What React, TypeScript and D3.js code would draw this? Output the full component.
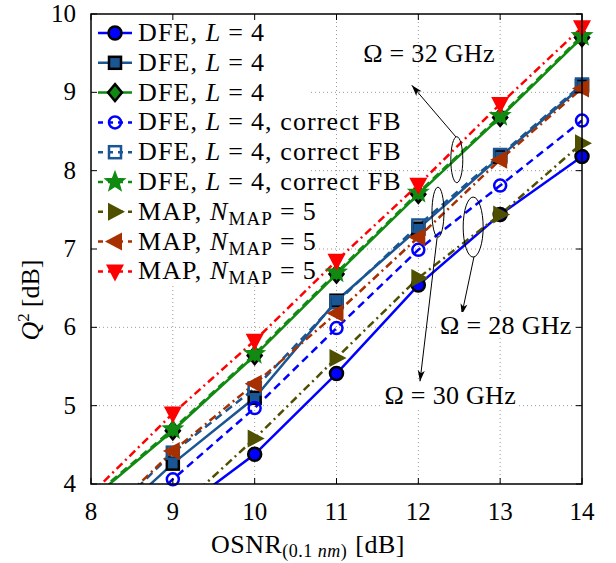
import React from 'react';
import * as d3 from 'd3';

// OSNR values (x) and Q^2 values (dB) per curve
const osnr = [8, 9, 10, 11, 12, 13, 14];
const dfeCircle = [null, 3.60, 4.38, 5.41, 6.54, 7.44, 8.18];
const dfeSquare = [3.30, 4.26, 5.10, 6.34, 7.26, 8.18, 9.08];
const dfeDiamond = [3.80, 4.68, 5.64, 6.68, 7.70, 8.68, 9.70];
const fbCircle = [3.10, 4.06, 4.97, 5.99, 6.99, 7.81, 8.64];
const fbSquare = [3.37, 4.40, 5.22, 6.32, 7.30, 8.20, 9.10];
const fbStar = [3.82, 4.70, 5.66, 6.70, 7.72, 8.70, 9.72];
const mapRight = [null, 3.62, 4.58, 5.61, 6.63, 7.44, 8.35];
const mapLeft = [3.40, 4.42, 5.28, 6.18, 7.15, 8.14, 9.05];
const mapDown = [3.87, 4.90, 5.83, 6.85, 7.82, 8.85, 9.83];

const xTicks = [8, 9, 10, 11, 12, 13, 14];
const yTicks = [4, 5, 6, 7, 8, 9, 10];

const BLUE = '#0000ff';
const DKBLUE = '#1a5693';
const GREEN = '#118a11';
const OLIVE = '#4f4f00';
const BROWN = '#a83000';
const RED = '#ff0000';

const DASH = '8,5';
const DASHDOT = '8,4,2,4';

type Marker = 'circle' | 'square' | 'diamond' | 'ocircle' | 'osquare' | 'star' | 'tright' | 'tleft' | 'tdown';

interface Series {
  values: (number | null)[];
  color: string;
  dash: string | null;
  marker: Marker;
  label: 'dfe' | 'fb' | 'map';
}

const series: Series[] = [
  { values: dfeCircle, color: BLUE, dash: null, marker: 'circle', label: 'dfe' },
  { values: dfeSquare, color: DKBLUE, dash: null, marker: 'square', label: 'dfe' },
  { values: dfeDiamond, color: GREEN, dash: null, marker: 'diamond', label: 'dfe' },
  { values: fbCircle, color: BLUE, dash: DASH, marker: 'ocircle', label: 'fb' },
  { values: fbSquare, color: DKBLUE, dash: DASH, marker: 'osquare', label: 'fb' },
  { values: fbStar, color: GREEN, dash: DASH, marker: 'star', label: 'fb' },
  { values: mapRight, color: OLIVE, dash: DASHDOT, marker: 'tright', label: 'map' },
  { values: mapLeft, color: BROWN, dash: DASHDOT, marker: 'tleft', label: 'map' },
  { values: mapDown, color: RED, dash: DASHDOT, marker: 'tdown', label: 'map' },
];

// annotations in data units
const annotations = [
  { text: '32', tx: 12.13, ty: 9.50, ex: 12.47, ey: 8.14, rx: 6, ry: 23, ax0: 12.46, ay0: 8.43, ax1: 11.92, ay1: 9.09, bg: false },
  { text: '28', tx: 13.07, ty: 6.03, ex: 12.67, ey: 7.28, rx: 10, ry: 30, ax0: 12.68, ay0: 6.90, ax1: 12.53, ay1: 6.16, bg: true },
  { text: '30', tx: 12.39, ty: 5.14, ex: 12.24, ey: 7.47, rx: 6, ry: 25, ax0: 12.23, ay0: 7.15, ax1: 12.02, ay1: 5.31, bg: true },
];

const W = 616;
const H = 563;
const left = 91, right = 582, top = 14, bottom = 484;
const FONT = "Liberation Serif, DejaVu Serif, Noto Serif, serif";

const x = d3.scaleLinear().domain([8, 14]).range([left, right]);
const y = d3.scaleLinear().domain([4, 10]).range([bottom, top]);

function drawMarker(m: Marker, cx: number, cy: number, color: string, key: string) {
  switch (m) {
    case 'circle':
      return <circle key={key} cx={cx} cy={cy} r={6.5} fill={color} stroke="#000" strokeWidth={2.5} />;
    case 'square':
      return <rect key={key} x={cx - 6} y={cy - 6} width={12} height={12} fill={color} stroke="#000" strokeWidth={2.5} />;
    case 'diamond':
      return <path key={key} d={`M${cx},${cy - 8.5}L${cx + 7},${cy}L${cx},${cy + 8.5}L${cx - 7},${cy}Z`} fill={color} stroke="#000" strokeWidth={2.5} />;
    case 'ocircle':
      return <circle key={key} cx={cx} cy={cy} r={6} fill="none" stroke={color} strokeWidth={2.5} />;
    case 'osquare':
      return <rect key={key} x={cx - 6} y={cy - 6} width={12} height={12} fill="none" stroke={color} strokeWidth={2.5} />;
    case 'star': {
      const pts = d3.range(10).map(i => {
        const a = -Math.PI / 2 + (i * Math.PI) / 5;
        const r = i % 2 === 0 ? 10 : 4.2;
        return `${cx + r * Math.cos(a)},${cy + r * Math.sin(a)}`;
      });
      return <polygon key={key} points={pts.join(' ')} fill={color} stroke={color} strokeWidth={1.5} />;
    }
    case 'tright':
      return <path key={key} d={`M${cx + 10},${cy}L${cx - 7},${cy - 9}L${cx - 7},${cy + 9}Z`} fill={color} />;
    case 'tleft':
      return <path key={key} d={`M${cx - 10},${cy}L${cx + 7},${cy - 9}L${cx + 7},${cy + 9}Z`} fill={color} />;
    case 'tdown':
      return <path key={key} d={`M${cx},${cy + 10}L${cx - 9},${cy - 7}L${cx + 9},${cy - 7}Z`} fill={color} />;
  }
}

function Label({ kind }: { kind: 'dfe' | 'fb' | 'map' }) {
  if (kind === 'map') {
    return (
      <>
        <tspan>MAP, </tspan>
        <tspan fontStyle="italic">N</tspan>
        <tspan fontSize={19} dy={5}>MAP</tspan>
        <tspan dy={-5} dx={7}>=</tspan>
        <tspan dx={7}>5</tspan>
      </>
    );
  }
  return (
    <>
      <tspan>DFE, </tspan>
      <tspan fontStyle="italic">L</tspan>
      <tspan dx={7}>=</tspan>
      <tspan dx={7}>4{kind === 'fb' ? ', correct FB' : ''}</tspan>
    </>
  );
}

function arrowHead(x0: number, y0: number, x1: number, y1: number) {
  const a = Math.atan2(y1 - y0, x1 - x0);
  const len = 11, hw = 3.5;
  const bx = x1 - len * Math.cos(a), by = y1 - len * Math.sin(a);
  const px = -Math.sin(a) * hw, py = Math.cos(a) * hw;
  return `M${x1},${y1}L${bx + px},${by + py}L${bx + len * 0.25 * Math.cos(a)},${by + len * 0.25 * Math.sin(a)}L${bx - px},${by - py}Z`;
}

export default function App() {
  const line = d3.line<[number, number | null]>()
    .defined(d => d[1] !== null)
    .x(d => x(d[0]))
    .y(d => y(d[1] as number));

  return (
    <svg width={W} height={H} style={{ position: 'absolute', left: 0, top: 0, background: '#fff', fontFamily: FONT }}>
      <defs>
        <clipPath id="plot">
          <rect x={left} y={top} width={right - left} height={bottom - top} />
        </clipPath>
      </defs>
      <rect x={0} y={0} width={W} height={H} fill="#fff" />

      {/* grid */}
      {xTicks.slice(1, -1).map(t => (
        <line key={'gx' + t} x1={x(t)} x2={x(t)} y1={top} y2={bottom} stroke="#9a9a9a" strokeWidth={1} strokeDasharray="1,3" />
      ))}
      {yTicks.slice(1, -1).map(t => (
        <line key={'gy' + t} x1={left} x2={right} y1={y(t)} y2={y(t)} stroke="#9a9a9a" strokeWidth={1} strokeDasharray="1,3" />
      ))}

      {/* curves */}
      <g clipPath="url(#plot)">
        {series.map((s, i) => (
          <path key={'l' + i} d={line(osnr.map((v, j) => [v, s.values[j]] as [number, number | null])) || ''}
            fill="none" stroke={s.color} strokeWidth={2.5} strokeDasharray={s.dash || undefined} />
        ))}
      </g>
      {series.map((s, i) => (
        <g key={'m' + i}>
          {osnr.map((v, j) => {
            const val = s.values[j];
            if (val === null || val < 4 || val > 10) return null;
            return drawMarker(s.marker, x(v), y(val), s.color, `m${i}-${j}`);
          })}
        </g>
      ))}

      {/* legend */}
      <rect x={left + 1} y={top + 1} width={216} height={270} fill="#fff" />
      {series.map((s, i) => {
        const cy = 33 + i * 29.8;
        return (
          <g key={'lg' + i}>
            <line x1={98} x2={132} y1={cy} y2={cy} stroke={s.color} strokeWidth={2.5} strokeDasharray={s.dash ? '5,5' : undefined} />
            {drawMarker(s.marker, 115, cy, s.color, 'lm' + i)}
            <text x={138} y={cy + 8} fontSize={26} letterSpacing={1.1} fill="#000" style={{ fontFamily: FONT }}>
              <Label kind={s.label} />
            </text>
          </g>
        );
      })}

      {/* annotations */}
      {annotations.map((a, i) => {
        const x0 = x(a.ax0), y0 = y(a.ay0), x1 = x(a.ax1), y1 = y(a.ay1);
        return (
          <g key={'an' + i}>
            <ellipse cx={x(a.ex)} cy={y(a.ey)} rx={a.rx} ry={a.ry} fill="none" stroke="#000" strokeWidth={1} />
            <line x1={x0} y1={y0} x2={x1} y2={y1} stroke="#000" strokeWidth={1} />
            <path d={arrowHead(x0, y0, x1, y1)} fill="#000" />
            {a.bg && <rect x={x(a.tx) - 68} y={y(a.ty) - 13} width={136} height={26} fill="#fff" />}
            <text x={x(a.tx)} y={y(a.ty) + 9} fontSize={26} letterSpacing={0.3} textAnchor="middle" fill="#000" style={{ fontFamily: FONT }}>
              Ω = {a.text} GHz
            </text>
          </g>
        );
      })}

      {/* frame and ticks */}
      <rect x={left} y={top} width={right - left} height={bottom - top} fill="none" stroke="#000" strokeWidth={1.5} />
      {xTicks.map(t => (
        <g key={'tx' + t}>
          <line x1={x(t)} x2={x(t)} y1={bottom} y2={bottom - 6} stroke="#000" strokeWidth={1} />
          <line x1={x(t)} x2={x(t)} y1={top} y2={top + 6} stroke="#000" strokeWidth={1} />
          <text x={x(t)} y={bottom + 36} fontSize={25} textAnchor="middle" fill="#000" style={{ fontFamily: FONT }}>{t}</text>
        </g>
      ))}
      {yTicks.map(t => (
        <g key={'ty' + t}>
          <line x1={left} x2={left + 6} y1={y(t)} y2={y(t)} stroke="#000" strokeWidth={1} />
          <line x1={right} x2={right - 6} y1={y(t)} y2={y(t)} stroke="#000" strokeWidth={1} />
          <text x={left - 15} y={y(t) + 8} fontSize={25} textAnchor="end" fill="#000" style={{ fontFamily: FONT }}>{t}</text>
        </g>
      ))}

      {/* axis labels */}
      <text x={308} y={553} fontSize={26} letterSpacing={0.5} textAnchor="middle" fill="#000" style={{ fontFamily: FONT }}>
        <tspan>OSNR</tspan>
        <tspan fontSize={18} dy={4}>(0.1 </tspan>
        <tspan fontSize={18} fontStyle="italic">nm</tspan>
        <tspan fontSize={18}>)</tspan>
        <tspan dy={-4} dx={8}>[dB]</tspan>
      </text>
      <text transform="translate(39,300) rotate(-90)" fontSize={26} textAnchor="middle" fill="#000" style={{ fontFamily: FONT }}>
        <tspan fontStyle="italic">Q</tspan>
        <tspan fontSize={17} dy={-10}>2</tspan>
        <tspan dy={10} dx={6}>[dB]</tspan>
      </text>
    </svg>
  );
}
